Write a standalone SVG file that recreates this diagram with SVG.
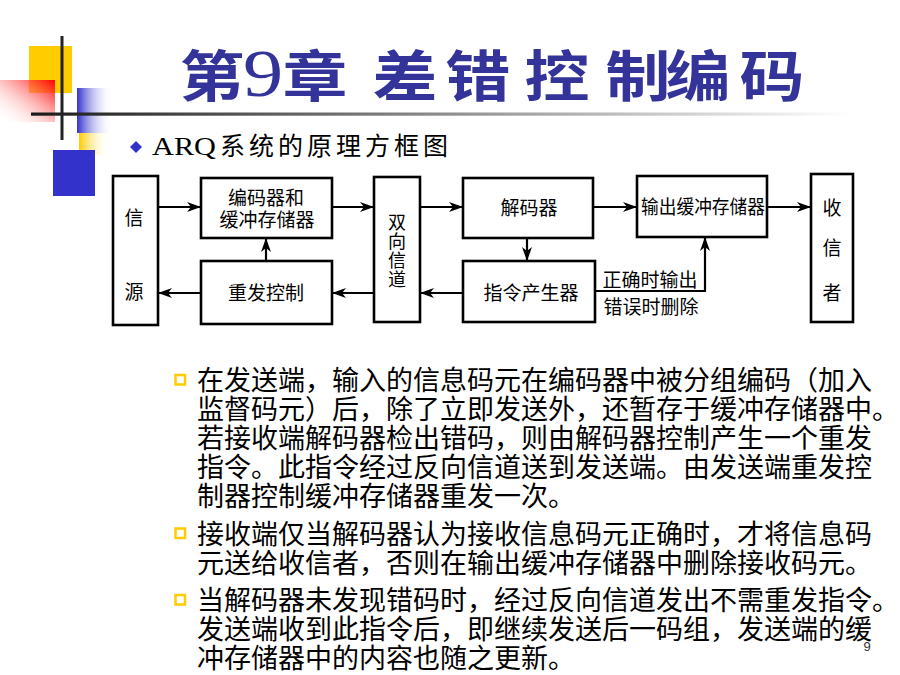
<svg xmlns="http://www.w3.org/2000/svg" width="900" height="675" viewBox="0 0 900 675">
<defs>
<linearGradient id="gRed" x1="1" y1="0" x2="0" y2="1">
<stop offset="0" stop-color="#FF0000"/>
<stop offset="1" stop-color="#FFFFFF" stop-opacity="0"/>
</linearGradient>
<linearGradient id="gBlue" x1="0" y1="0" x2="1" y2="0">
<stop offset="0" stop-color="#3333CC"/>
<stop offset="1" stop-color="#FFFFFF" stop-opacity="0"/>
</linearGradient>
<linearGradient id="gYel" x1="0" y1="0" x2="1" y2="0">
<stop offset="0" stop-color="#FFCC00"/>
<stop offset="1" stop-color="#FFFFFF" stop-opacity="0"/>
</linearGradient>
<linearGradient id="gLine" gradientUnits="userSpaceOnUse" x1="31" y1="0" x2="850" y2="0">
<stop offset="0" stop-color="#1A1A1A"/>
<stop offset="1" stop-color="#FFFFFF"/>
</linearGradient>
<marker id="arr" markerUnits="userSpaceOnUse" markerWidth="16" markerHeight="12" refX="14" refY="5" orient="auto">
<path d="M0,0 L14,5 L0,10 L4,5 Z" fill="#000"/>
</marker>
<style>
.box{fill:#fff;stroke:#000;stroke-width:2.6}
.lbl{font-family:"Noto Sans CJK SC",sans-serif;font-size:19px;fill:#000}
.vl{font-family:"Noto Sans CJK SC",sans-serif;font-size:18px;fill:#000}
.con{fill:none;stroke:#000;stroke-width:2.2}
.body{font-family:"Noto Sans CJK SC",sans-serif;font-size:27px;fill:#000}
.bul{fill:none;stroke:#FFCC00;stroke-width:2.5}
.title{font-family:"Noto Sans CJK SC",sans-serif;font-weight:bold;font-size:55px;fill:#333399}
</style>
</defs>
<rect width="900" height="675" fill="#fff"/>

<g id="decor">
<rect x="29" y="46" width="43" height="47" fill="#FFCC00"/>
<rect x="0" y="80" width="55" height="42" fill="url(#gRed)"/>
<rect x="77" y="88" width="36" height="45" fill="url(#gBlue)"/>
<rect x="79" y="133" width="31" height="22" fill="url(#gYel)"/>
<rect x="53" y="150" width="42" height="46" fill="#3333CC"/>
<line x1="62" y1="36" x2="62" y2="140" stroke="#222" stroke-width="3"/>
<rect x="31" y="112.5" width="869" height="3.2" fill="url(#gLine)"/>
</g>

<g id="title">
<g transform="scale(1.18 1)">
<text class="title" y="96"><tspan x="152.1">第</tspan><tspan x="205.9" font-family="Liberation Serif, serif" font-weight="normal" font-size="68px">9</tspan><tspan x="239.4">章</tspan><tspan x="315.7">差</tspan><tspan x="377.5">错</tspan><tspan x="444.5">控</tspan><tspan x="513.1">制</tspan><tspan x="564">编</tspan><tspan x="626.7">码</tspan></text>
</g>
</g>

<g id="subtitle">
<path d="M136,141 L142,147 L136,153 L130,147 Z" fill="#3333CC"/>
<text x="152" y="155" font-family="Liberation Serif, serif" font-size="26px" textLength="64" lengthAdjust="spacingAndGlyphs">ARQ</text>
<text x="220" y="155" font-family="Noto Sans CJK SC, sans-serif" font-size="25px" textLength="228" lengthAdjust="spacing">系统的原理方框图</text>
</g>

<g id="connectors">
<line class="con" x1="158" y1="207" x2="201" y2="207" marker-end="url(#arr)"/>
<line class="con" x1="332" y1="207" x2="374" y2="207" marker-end="url(#arr)"/>
<line class="con" x1="420" y1="207" x2="463" y2="207" marker-end="url(#arr)"/>
<line class="con" x1="593" y1="207" x2="637" y2="207" marker-end="url(#arr)"/>
<line class="con" x1="767" y1="207" x2="811" y2="207" marker-end="url(#arr)"/>
<line class="con" x1="527" y1="238" x2="527" y2="261" marker-end="url(#arr)"/>
<polyline class="con" points="595,291 705,291 705,237" marker-end="url(#arr)"/>
<line class="con" x1="463" y1="293" x2="420" y2="293" marker-end="url(#arr)"/>
<line class="con" x1="374" y1="293" x2="332" y2="293" marker-end="url(#arr)"/>
<line class="con" x1="201" y1="293" x2="158" y2="293" marker-end="url(#arr)"/>
<line class="con" x1="266" y1="261" x2="266" y2="238" marker-end="url(#arr)"/>
<text class="lbl" x="650" y="287" text-anchor="middle">正确时输出</text>
<text class="lbl" x="651" y="314" text-anchor="middle">错误时删除</text>
</g>

<g id="source">
<rect class="box" x="113" y="176" width="45" height="149"/>
<text class="lbl" x="134" y="225" text-anchor="middle">信</text>
<text class="lbl" x="134" y="299" text-anchor="middle">源</text>
</g>

<g id="encoder">
<rect class="box" x="201" y="178" width="131" height="60"/>
<text class="lbl" x="266" y="205" text-anchor="middle">编码器和</text>
<text class="lbl" x="267" y="227" text-anchor="middle">缓冲存储器</text>
</g>

<g id="retx">
<rect class="box" x="201" y="261" width="131" height="63"/>
<text class="lbl" x="266" y="300" text-anchor="middle">重发控制</text>
</g>

<g id="channel">
<rect class="box" x="374" y="177" width="46" height="145"/>
<text class="vl" x="397" y="229" text-anchor="middle">双</text>
<text class="vl" x="397" y="248" text-anchor="middle">向</text>
<text class="vl" x="397" y="267" text-anchor="middle">信</text>
<text class="vl" x="397" y="286" text-anchor="middle">道</text>
</g>

<g id="decoder">
<rect class="box" x="463" y="178" width="130" height="60"/>
<text class="lbl" x="529" y="215" text-anchor="middle">解码器</text>
</g>

<g id="cmdgen">
<rect class="box" x="463" y="261" width="132" height="61"/>
<text class="lbl" x="531" y="300" text-anchor="middle">指令产生器</text>
</g>

<g id="outbuf">
<rect class="box" x="637" y="176" width="130" height="61"/>
<text class="lbl" x="703" y="213.5" text-anchor="middle" textLength="124" lengthAdjust="spacingAndGlyphs">输出缓冲存储器</text>
</g>

<g id="sink">
<rect class="box" x="811" y="174" width="42" height="148"/>
<text class="lbl" x="832" y="215" text-anchor="middle">收</text>
<text class="lbl" x="832" y="255" text-anchor="middle">信</text>
<text class="lbl" x="832" y="300" text-anchor="middle">者</text>
</g>

<g id="bullets">
<rect class="bul" x="175.5" y="375" width="9.5" height="9.5"/>
<rect class="bul" x="175.5" y="528.5" width="9.5" height="9.5"/>
<rect class="bul" x="175.5" y="595" width="9.5" height="9.5"/>
</g>

<g id="body">
<text class="body" x="197" y="390">在发送端，输入的信息码元在编码器中被分组编码（加入</text>
<text class="body" x="197" y="419">监督码元）后，除了立即发送外，还暂存于缓冲存储器中。</text>
<text class="body" x="197" y="448">若接收端解码器检出错码，则由解码器控制产生一个重发</text>
<text class="body" x="197" y="477">指令。此指令经过反向信道送到发送端。由发送端重发控</text>
<text class="body" x="197" y="506">制器控制缓冲存储器重发一次。</text>
<text class="body" x="197" y="543.5">接收端仅当解码器认为接收信息码元正确时，才将信息码</text>
<text class="body" x="197" y="572.5">元送给收信者，否则在输出缓冲存储器中删除接收码元。</text>
<text class="body" x="197" y="610">当解码器未发现错码时，经过反向信道发出不需重发指令。</text>
<text class="body" x="197" y="639">发送端收到此指令后，即继续发送后一码组，发送端的缓</text>
<text class="body" x="197" y="668">冲存储器中的内容也随之更新。</text>
</g>

<text id="pagenum" x="867" y="651" text-anchor="middle" font-family="Liberation Sans, sans-serif" font-size="13px" fill="#333">9</text>
</svg>
